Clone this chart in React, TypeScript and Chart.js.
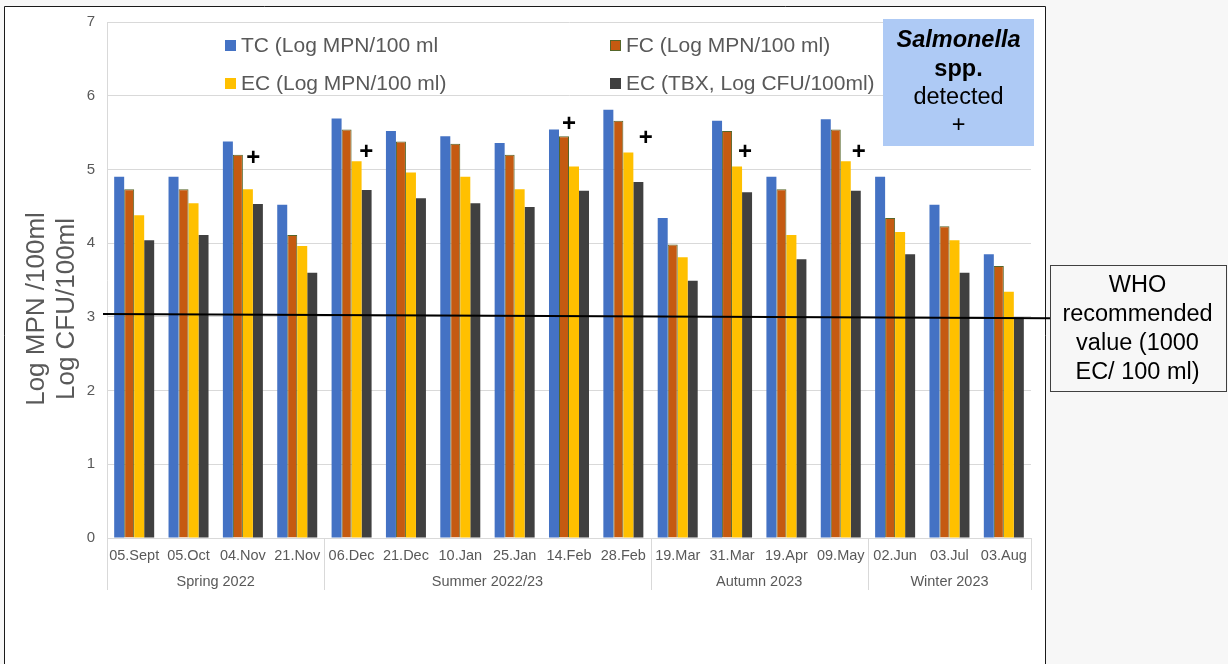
import React, { useEffect, useRef } from 'react';
import { Chart, registerables } from 'chart.js';

Chart.register(...registerables);

const FONT = "'Liberation Sans', Arial, sans-serif";
const TEXT_GREY = '#595959';

const categories = ['05.Sept', '05.Oct', '04.Nov', '21.Nov', '06.Dec', '21.Dec', '10.Jan', '25.Jan', '14.Feb', '28.Feb', '19.Mar', '31.Mar', '19.Apr', '09.May', '02.Jun', '03.Jul', '03.Aug'];
const seasonNames = ['Spring 2022', 'Summer 2022/23', 'Autumn 2023', 'Winter 2023'];
const seasonSizes = [4, 6, 4, 3];

const seriesLabels = ['TC (Log MPN/100 ml', 'FC (Log MPN/100 ml)', 'EC (Log MPN/100 ml)', 'EC (TBX, Log CFU/100ml)'];
const tcValues = [4.90, 4.90, 5.38, 4.52, 5.69, 5.52, 5.45, 5.36, 5.54, 5.81, 4.34, 5.66, 4.90, 5.68, 4.90, 4.52, 3.85];
const fcValues = [4.73, 4.73, 5.20, 4.11, 5.54, 5.38, 5.35, 5.20, 5.45, 5.66, 3.98, 5.52, 4.73, 5.54, 4.34, 4.23, 3.69];
const ecValues = [4.38, 4.54, 4.73, 3.96, 5.11, 4.96, 4.90, 4.73, 5.04, 5.23, 3.81, 5.04, 4.11, 5.11, 4.15, 4.04, 3.34];
const tbxValues = [4.04, 4.11, 4.53, 3.60, 4.72, 4.61, 4.54, 4.49, 4.71, 4.83, 3.49, 4.69, 3.78, 4.71, 3.85, 3.60, 2.99];

const yMin = 0;
const yMax = 7;
const yStep = 1;

// Salmonella detected markers: category, value level, offset (fraction of category width)
const plusCategories = ['04.Nov', '06.Dec', '14.Feb', '28.Feb', '31.Mar', '09.May'];
const plusValues = [5.16, 5.25, 5.62, 5.44, 5.25, 5.25];
const plusOffsets = [0.19, 0.27, 0.0, 0.41, 0.24, 0.33];

// WHO recommended value line (log 1000 EC/100 ml)
const whoValueLeft = 3.04;
const whoValueRight = 2.98;
const whoLabelLines = ['WHO', 'recommended', 'value (1000', 'EC/ 100 ml)'];

const yTitleLines = ['Log MPN /100ml', 'Log CFU/100ml'];

const decorPlugin = {
  id: 'decor',
  beforeDraw(chart: any) {
    const ctx = chart.ctx;
    ctx.save();
    ctx.fillStyle = '#f7f7f7';
    ctx.fillRect(0, 0, chart.width, chart.height);
    ctx.fillStyle = '#ffffff';
    ctx.fillRect(4, 6, 1041, chart.height);
    ctx.strokeStyle = '#1a1a1a';
    ctx.lineWidth = 1;
    ctx.beginPath();
    ctx.moveTo(4.5, chart.height);
    ctx.lineTo(4.5, 6.5);
    ctx.lineTo(1045.5, 6.5);
    ctx.lineTo(1045.5, chart.height);
    ctx.stroke();
    ctx.restore();
  },
  afterDraw(chart: any) {
    const ctx = chart.ctx;
    const area = chart.chartArea;
    const xs = chart.scales.x;
    const ys = chart.scales.y;
    const catW = (area.right - area.left) / categories.length;

    ctx.save();

    // Season separators and labels
    ctx.strokeStyle = '#d9d9d9';
    ctx.lineWidth = 1;
    ctx.fillStyle = TEXT_GREY;
    ctx.font = `14.5px ${FONT}`;
    ctx.textAlign = 'center';
    ctx.textBaseline = 'middle';
    let start = 0;
    const boundaries: number[] = [0];
    seasonSizes.forEach((n) => { start += n; boundaries.push(start); });
    boundaries.forEach((b) => {
      const px = Math.round(xs.getPixelForValue(b - 0.5)) + 0.5;
      ctx.beginPath();
      ctx.moveTo(px, area.bottom);
      ctx.lineTo(px, area.bottom + 52);
      ctx.stroke();
    });
    seasonNames.forEach((name, i) => {
      const a = xs.getPixelForValue(boundaries[i] - 0.5);
      const b = xs.getPixelForValue(boundaries[i + 1] - 0.5);
      ctx.fillText(name, (a + b) / 2, area.bottom + 44);
    });

    // WHO line
    ctx.strokeStyle = '#000000';
    ctx.lineWidth = 2;
    ctx.beginPath();
    ctx.moveTo(area.left - 4, ys.getPixelForValue(whoValueLeft));
    ctx.lineTo(1050, ys.getPixelForValue(whoValueRight));
    ctx.stroke();

    // Plus markers
    ctx.fillStyle = '#000000';
    ctx.font = `bold 24px ${FONT}`;
    ctx.textAlign = 'center';
    ctx.textBaseline = 'middle';
    plusCategories.forEach((c, i) => {
      const idx = categories.indexOf(c);
      const px = xs.getPixelForValue(idx) + plusOffsets[i] * catW;
      const py = ys.getPixelForValue(plusValues[i]);
      ctx.fillText('+', px, py + 1);
    });

    // Legend
    ctx.font = `21px ${FONT}`;
    ctx.textAlign = 'left';
    ctx.textBaseline = 'middle';
    const legendX = [225, 610];
    const legendY = [45.5, 83.5];
    chart.data.datasets.forEach((ds: any, i: number) => {
      const col = i % 2;
      const row = Math.floor(i / 2);
      const x = legendX[col];
      const y = legendY[row];
      ctx.fillStyle = ds.backgroundColor;
      ctx.fillRect(x, y - 5.5, 11, 11);
      if (ds.borderWidth) {
        ctx.strokeStyle = ds.borderColor;
        ctx.lineWidth = 1;
        ctx.strokeRect(x + 0.5, y - 5, 10, 10);
      }
      ctx.fillStyle = TEXT_GREY;
      ctx.fillText(ds.label, x + 16, y + 1);
    });

    // Salmonella box
    ctx.fillStyle = '#aecaf5';
    ctx.fillRect(883, 19, 151, 127);
    ctx.fillStyle = '#000000';
    ctx.textAlign = 'center';
    ctx.textBaseline = 'middle';
    const sx = 958.5;
    ctx.font = `italic bold 23.5px ${FONT}`;
    ctx.fillText('Salmonella', sx, 41);
    ctx.font = `bold 23.5px ${FONT}`;
    ctx.fillText('spp.', sx, 70);
    ctx.font = `23.5px ${FONT}`;
    ctx.fillText('detected', sx, 98);
    ctx.fillText('+', sx, 126);

    // WHO box
    ctx.fillStyle = '#f7f7f7';
    ctx.fillRect(1050, 265, 177, 127);
    ctx.strokeStyle = '#404040';
    ctx.lineWidth = 1;
    ctx.strokeRect(1050.5, 265.5, 176, 126);
    ctx.fillStyle = '#000000';
    ctx.font = `23.5px ${FONT}`;
    whoLabelLines.forEach((t, i) => {
      ctx.fillText(t, 1137.5, 286 + i * 29);
    });

    // Y axis title
    ctx.fillStyle = TEXT_GREY;
    ctx.font = `26px ${FONT}`;
    ctx.textAlign = 'center';
    ctx.textBaseline = 'alphabetic';
    const titleBase = [44, 74];
    yTitleLines.forEach((t, i) => {
      ctx.save();
      ctx.translate(titleBase[i], 309);
      ctx.rotate(-Math.PI / 2);
      ctx.fillText(t, 0, 0);
      ctx.restore();
    });

    ctx.restore();
  },
};

export default function App() {
  const canvasRef = useRef<HTMLCanvasElement | null>(null);

  useEffect(() => {
    const canvas = canvasRef.current;
    if (!canvas) return;
    Chart.defaults.font.family = FONT;
    const chart = new Chart(canvas, {
      type: 'bar',
      data: {
        labels: categories,
        datasets: [
          { label: seriesLabels[0], data: tcValues, backgroundColor: '#4472c4', borderWidth: 0 },
          { label: seriesLabels[1], data: fcValues, backgroundColor: '#c55a11', borderColor: '#55662a', borderWidth: 1 },
          { label: seriesLabels[2], data: ecValues, backgroundColor: '#ffc000', borderWidth: 0 },
          { label: seriesLabels[3], data: tbxValues, backgroundColor: '#404040', borderWidth: 0 },
        ],
      },
      options: {
        responsive: false,
        animation: false,
        maintainAspectRatio: false,
        devicePixelRatio: 1,
        datasets: {
          bar: { categoryPercentage: 0.736, barPercentage: 1.0 },
        },
        layout: { padding: { top: 22, right: 197, bottom: 0, left: 0 } },
        plugins: {
          legend: { display: false },
          tooltip: { enabled: false },
          title: { display: false },
        },
        scales: {
          x: {
            grid: { display: false, drawTicks: false },
            border: { display: true, color: '#d9d9d9', width: 1 },
            ticks: {
              color: TEXT_GREY,
              font: { size: 14.5, family: FONT },
              autoSkip: false,
              maxRotation: 0,
              minRotation: 0,
              padding: 9,
            },
            afterFit: (scale: any) => { scale.height = 126; },
          },
          y: {
            min: yMin,
            max: yMax,
            grid: { color: '#d9d9d9', drawTicks: false, lineWidth: 1 },
            border: { display: true, color: '#d9d9d9', width: 1 },
            ticks: {
              stepSize: yStep,
              color: TEXT_GREY,
              font: { size: 15, family: FONT },
              padding: 12,
            },
            afterFit: (scale: any) => { scale.width = 107; },
          },
        },
      },
      plugins: [decorPlugin],
    });
    return () => chart.destroy();
  }, []);

  return (
    <div style={{ position: 'fixed', left: 0, top: 0, width: 1228, height: 664, background: '#f7f7f7' }}>
      <canvas ref={canvasRef} width={1228} height={664} style={{ display: 'block', width: 1228, height: 664 }} />
    </div>
  );
}
